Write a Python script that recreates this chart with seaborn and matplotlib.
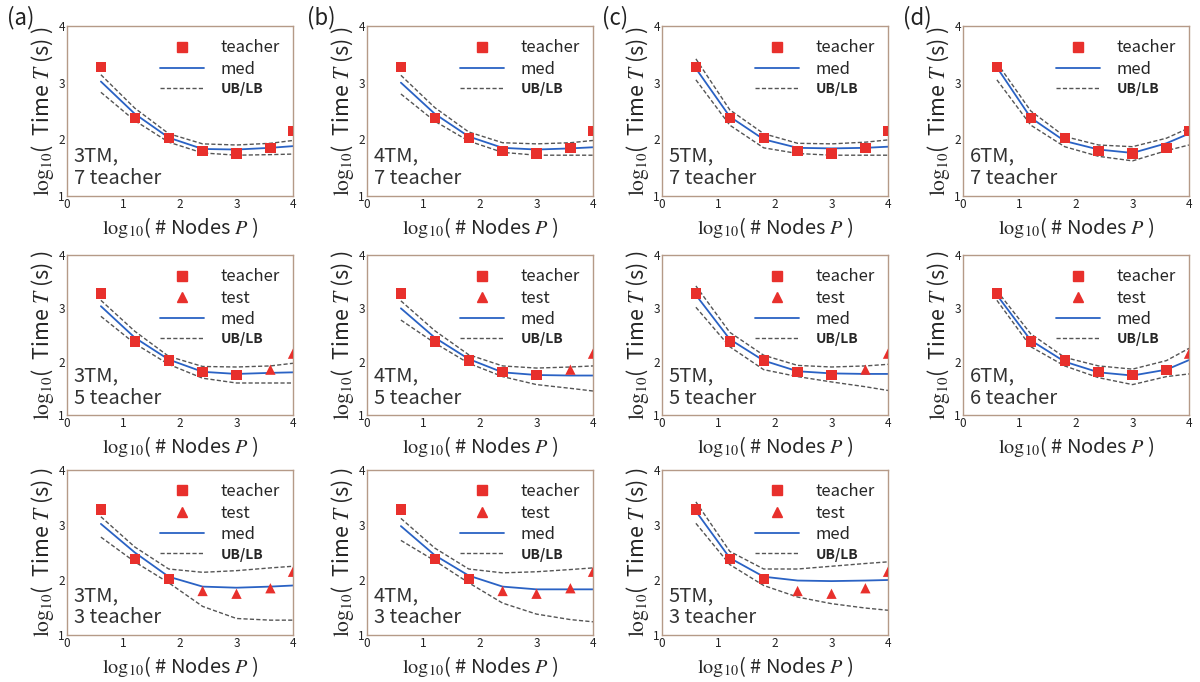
import matplotlib
matplotlib.use("Agg")
import matplotlib.pyplot as plt
from matplotlib.lines import Line2D
from matplotlib.ticker import MultipleLocator
import seaborn as sns
import pandas as pd

# node counts (log10) and measured times (log10 s), shared by every panel
x_nodes = [0.6, 1.2, 1.8, 2.4, 3.0, 3.6, 4.0]
teacher_time = [3.28, 2.38, 2.02, 1.80, 1.75, 1.85, 2.15]

# predicted median / upper / lower bounds per panel
med_3tm_7 = [3.02, 2.45, 2.03, 1.83, 1.82, 1.85, 1.88]
ub_3tm_7 = [3.14, 2.55, 2.10, 1.92, 1.90, 1.93, 1.98]
lb_3tm_7 = [2.83, 2.33, 1.95, 1.76, 1.72, 1.73, 1.74]

med_3tm_5 = [3.04, 2.45, 2.04, 1.81, 1.77, 1.79, 1.80]
ub_3tm_5 = [3.15, 2.57, 2.10, 1.91, 1.90, 1.92, 1.97]
lb_3tm_5 = [2.85, 2.34, 1.95, 1.69, 1.60, 1.60, 1.60]

med_3tm_3 = [3.02, 2.50, 2.06, 1.88, 1.86, 1.88, 1.90]
ub_3tm_3 = [3.15, 2.60, 2.20, 2.14, 2.17, 2.22, 2.25]
lb_3tm_3 = [2.78, 2.33, 1.95, 1.52, 1.30, 1.27, 1.27]

med_4tm_7 = [3.00, 2.45, 2.05, 1.85, 1.82, 1.84, 1.86]
ub_4tm_7 = [3.13, 2.56, 2.13, 1.94, 1.92, 1.94, 1.98]
lb_4tm_7 = [2.80, 2.32, 1.97, 1.77, 1.72, 1.72, 1.72]

med_4tm_5 = [3.00, 2.45, 2.05, 1.80, 1.75, 1.74, 1.74]
ub_4tm_5 = [3.14, 2.58, 2.13, 1.92, 1.88, 1.90, 1.92]
lb_4tm_5 = [2.78, 2.35, 1.97, 1.72, 1.57, 1.50, 1.45]

med_4tm_3 = [2.98, 2.45, 2.08, 1.88, 1.83, 1.83, 1.83]
ub_4tm_3 = [3.12, 2.58, 2.20, 2.13, 2.15, 2.19, 2.22]
lb_4tm_3 = [2.72, 2.35, 1.95, 1.58, 1.38, 1.28, 1.24]

med_5tm_7 = [3.25, 2.40, 2.00, 1.85, 1.84, 1.85, 1.87]
ub_5tm_7 = [3.42, 2.52, 2.10, 1.93, 1.92, 1.95, 1.99]
lb_5tm_7 = [3.05, 2.25, 1.85, 1.75, 1.72, 1.72, 1.72]

med_5tm_5 = [3.25, 2.42, 2.02, 1.82, 1.78, 1.77, 1.77]
ub_5tm_5 = [3.42, 2.55, 2.12, 1.93, 1.90, 1.92, 1.95]
lb_5tm_5 = [3.02, 2.28, 1.85, 1.72, 1.62, 1.53, 1.46]

med_5tm_3 = [3.25, 2.40, 2.06, 1.99, 1.98, 1.99, 2.00]
ub_5tm_3 = [3.42, 2.52, 2.20, 2.20, 2.25, 2.30, 2.33]
lb_5tm_3 = [3.03, 2.28, 1.90, 1.69, 1.57, 1.49, 1.45]

med_6tm_7 = [3.27, 2.38, 1.97, 1.82, 1.76, 1.93, 2.10]
ub_6tm_7 = [3.35, 2.50, 2.05, 1.90, 1.87, 2.02, 2.20]
lb_6tm_7 = [3.05, 2.25, 1.87, 1.70, 1.62, 1.80, 1.90]

med_6tm_6 = [3.25, 2.40, 2.00, 1.80, 1.74, 1.85, 2.03]
ub_6tm_6 = [3.33, 2.52, 2.08, 1.92, 1.86, 2.02, 2.25]
lb_6tm_6 = [3.15, 2.28, 1.92, 1.70, 1.57, 1.72, 1.77]

# (column, row, TM count, number of teacher points, med, ub, lb)
panels = [
    (0, 0, 3, 7, med_3tm_7, ub_3tm_7, lb_3tm_7),
    (0, 1, 3, 5, med_3tm_5, ub_3tm_5, lb_3tm_5),
    (0, 2, 3, 3, med_3tm_3, ub_3tm_3, lb_3tm_3),
    (1, 0, 4, 7, med_4tm_7, ub_4tm_7, lb_4tm_7),
    (1, 1, 4, 5, med_4tm_5, ub_4tm_5, lb_4tm_5),
    (1, 2, 4, 3, med_4tm_3, ub_4tm_3, lb_4tm_3),
    (2, 0, 5, 7, med_5tm_7, ub_5tm_7, lb_5tm_7),
    (2, 1, 5, 5, med_5tm_5, ub_5tm_5, lb_5tm_5),
    (2, 2, 5, 3, med_5tm_3, ub_5tm_3, lb_5tm_3),
    (3, 0, 6, 7, med_6tm_7, ub_6tm_7, lb_6tm_7),
    (3, 1, 6, 6, med_6tm_6, ub_6tm_6, lb_6tm_6),
]
panel_letters = ["(a)", "(b)", "(c)", "(d)"]

sns.set_theme(style="white")
plt.rcParams["font.family"] = ["Noto Sans CJK JP", "DejaVu Sans"]
plt.rcParams["mathtext.fontset"] = "stix"

RED = "#e8302c"
BLUE = "#2a62c4"
GREY = "#555555"
FRAME = "#b59a88"

W, H = 1200, 682
col_left = [67, 367, 662, 963]
row_top = [26, 255, 470]
row_h = [170, 160, 165]
ax_w = 226

fig = plt.figure(figsize=(12, 6.82), dpi=100)

for col, row, tm, n_teach, med, ub, lb in panels:
    ax = fig.add_axes([col_left[col] / W, 1 - (row_top[row] + row_h[row]) / H,
                       ax_w / W, row_h[row] / H])
    df = pd.DataFrame({"x": x_nodes, "med": med, "ub": ub, "lb": lb, "t": teacher_time})

    sns.lineplot(data=df, x="x", y="ub", ax=ax, color=GREY, lw=1.0, linestyle=(0, (3, 1.6)))
    sns.lineplot(data=df, x="x", y="lb", ax=ax, color=GREY, lw=1.0, linestyle=(0, (3, 1.6)))
    sns.lineplot(data=df, x="x", y="med", ax=ax, color=BLUE, lw=1.3)
    sns.scatterplot(data=df.iloc[:n_teach], x="x", y="t", ax=ax, marker="s",
                    color=RED, s=55, edgecolor="none", zorder=5, clip_on=True)
    if n_teach < len(x_nodes):
        sns.scatterplot(data=df.iloc[n_teach:], x="x", y="t", ax=ax, marker="^",
                        color=RED, s=55, edgecolor="none", zorder=5, clip_on=True)

    ax.set_xlim(0, 4)
    ax.set_ylim(1, 4)
    ax.xaxis.set_major_locator(MultipleLocator(1))
    ax.yaxis.set_major_locator(MultipleLocator(1))
    ax.xaxis.set_minor_locator(MultipleLocator(0.2))
    ax.yaxis.set_minor_locator(MultipleLocator(0.2))
    ax.tick_params(which="major", labelsize=8.5, length=2.5, direction="in",
                   color="#999999", pad=1.5, labelcolor="#222222")
    ax.tick_params(which="minor", length=2, direction="in", color="#c8c8c8")
    for sp in ax.spines.values():
        sp.set_color(FRAME)
        sp.set_linewidth(1.0)

    ax.set_xlabel(r"$\mathrm{log}_{10}$( # Nodes $P$ )", fontsize=14.5, labelpad=3)
    ax.set_ylabel(r"$\mathrm{log}_{10}$(  Time $T$ (s) )", fontsize=15.5, labelpad=2)

    ax.text(0.03, 0.04, f"{tm}TM,\n{n_teach} teacher", transform=ax.transAxes,
            fontsize=14.5, color="#333333", ha="left", va="bottom", linespacing=1.1)

    handles = [Line2D([], [], marker="s", color=RED, ls="none", markersize=7)]
    labels = ["teacher"]
    if n_teach < len(x_nodes):
        handles.append(Line2D([], [], marker="^", color=RED, ls="none", markersize=7))
        labels.append("test")
    handles.append(Line2D([], [], color=BLUE, lw=1.3))
    labels.append("med")
    handles.append(Line2D([], [], color=GREY, lw=1.0, ls=(0, (3, 1.6))))
    labels.append("UB/LB")
    leg = ax.legend(handles, labels, loc="upper right", frameon=False, fontsize=12,
                    handlelength=2.6, handletextpad=1.0, labelspacing=0.25,
                    borderaxespad=0.4)
    leg.get_texts()[-1].set_fontweight("bold")
    leg.get_texts()[-1].set_fontsize(10)

for i, letter in enumerate(panel_letters):
    fig.text((col_left[i] - 60) / W, 1 - 18 / H, letter, fontsize=16,
             ha="left", va="center", color="#222222")

fig.savefig("out.png", dpi=100)
